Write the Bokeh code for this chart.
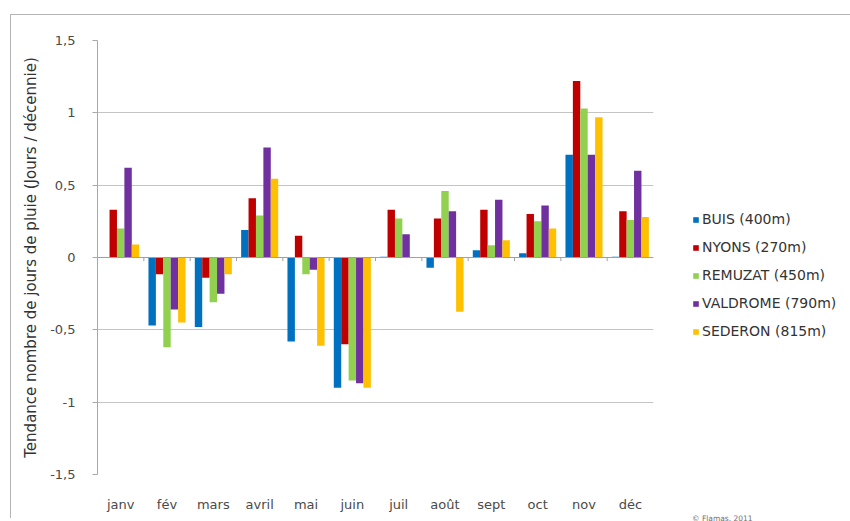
from bokeh.plotting import figure
from bokeh.models import (ColumnDataSource, FactorRange, Range1d, FixedTicker, Legend,
                          LegendItem, Title, Span)
from bokeh.transform import dodge
from bokeh.embed import file_html
from bokeh.resources import INLINE

months = ["janv", "fév", "mars", "avril", "mai", "juin", "juil", "août", "sept", "oct", "nov", "déc"]
series_names = ["BUIS (400m)", "NYONS (270m)", "REMUZAT (450m)", "VALDROME (790m)", "SEDERON (815m)"]
buis = [0.0, -0.47, -0.48, 0.19, -0.58, -0.90, 0.005, -0.07, 0.05, 0.03, 0.71, 0.005]
nyons = [0.33, -0.115, -0.14, 0.41, 0.15, -0.60, 0.33, 0.27, 0.33, 0.30, 1.22, 0.32]
remuzat = [0.20, -0.62, -0.31, 0.29, -0.115, -0.85, 0.27, 0.46, 0.085, 0.25, 1.03, 0.26]
valdrome = [0.62, -0.36, -0.25, 0.76, -0.085, -0.87, 0.16, 0.32, 0.40, 0.36, 0.71, 0.60]
sederon = [0.09, -0.45, -0.115, 0.545, -0.61, -0.90, 0.0, -0.375, 0.12, 0.20, 0.97, 0.28]
colors = ["#0070C0", "#C00000", "#92D050", "#7030A0", "#FFC000"]
y_ticks = [-1.5, -1, -0.5, 0, 0.5, 1, 1.5]
y_tick_labels = ["-1,5", "-1", "-0,5", "0", "0,5", "1", "1,5"]
y_title = "Tendance nombre de jours de pluie (Jours / décennie)"
credit = "© Flamas. 2011"

FONT = "DejaVu Sans"
TXT = "#4A4A4A"

keys = ["buis", "nyons", "remuzat", "valdrome", "sederon"]
src = ColumnDataSource(dict(month=months, buis=buis, nyons=nyons, remuzat=remuzat,
                            valdrome=valdrome, sederon=sederon))

p = figure(x_range=FactorRange(*months), y_range=Range1d(-1.5, 1.5),
           frame_width=556, frame_height=434, output_backend="svg", toolbar_location=None,
           min_border_left=86, min_border_right=192, min_border_top=25, min_border_bottom=44)
p.margin = (14, 0, 0, 10)
p.styles = {"border-left": "1px solid #B4B4B4", "border-top": "1px solid #B4B4B4"}
p.outline_line_color = None
p.background_fill_color = "white"

offsets = [-0.32, -0.16, 0.0, 0.16, 0.32]
items = []
for k, name, c, off in zip(keys, series_names, colors, offsets):
    r = p.vbar(x=dodge("month", off, range=p.x_range), top=k, width=0.16, source=src,
               fill_color=c, line_color=None)
    items.append(LegendItem(label=name, renderers=[r]))

# zero axis line with small category ticks
p.add_layout(Span(location=0, dimension="width", line_color="#A0A0A0", line_width=1))
p.segment(x0=list(range(1, len(months))), x1=list(range(1, len(months))),
          y0=[0] * (len(months) - 1), y1=[-0.025] * (len(months) - 1), line_color="#A0A0A0")

p.xgrid.grid_line_color = None
p.ygrid.ticker = FixedTicker(ticks=y_ticks)
p.ygrid.grid_line_color = "#C4C4C4"

p.yaxis.ticker = FixedTicker(ticks=y_ticks)
p.yaxis.major_label_overrides = {t: l for t, l in zip(y_ticks, y_tick_labels)}
p.yaxis.axis_line_color = "#A8A8A8"
p.yaxis.major_tick_line_color = "#A8A8A8"
p.yaxis.major_tick_out = 5
p.yaxis.major_tick_in = 0
p.yaxis.minor_tick_line_color = None
p.yaxis.major_label_standoff = 17
p.yaxis.major_label_text_font = FONT
p.yaxis.major_label_text_font_size = "13px"
p.yaxis.major_label_text_color = TXT

p.add_layout(Title(text=y_title, align="center", offset=19, standoff=15,
                   text_font=FONT, text_font_size="15px", text_font_style="normal",
                   text_color="#333333"), "left")

p.xaxis.axis_line_color = None
p.xaxis.major_tick_line_color = None
p.xaxis.minor_tick_line_color = None
p.xaxis.major_label_standoff = 16
p.xaxis.major_label_text_font = FONT
p.xaxis.major_label_text_font_size = "13px"
p.xaxis.major_label_text_color = TXT

# series legend on the right; the credit line is carried as its title, set below the items
legend = Legend(items=items, location=(39, -49), border_line_color=None,
                background_fill_alpha=0, glyph_width=7, glyph_height=7,
                label_text_font=FONT, label_text_font_size="14px", label_text_color="#333333",
                label_height=20, spacing=8, padding=0, margin=0, label_standoff=3,
                title=credit, title_location="below", title_standoff=173,
                title_text_font=FONT, title_text_font_size="7.5px",
                title_text_font_style="normal", title_text_color="#707070")
p.add_layout(legend, "right")

open("out.html", "w").write(file_html(p, INLINE))
